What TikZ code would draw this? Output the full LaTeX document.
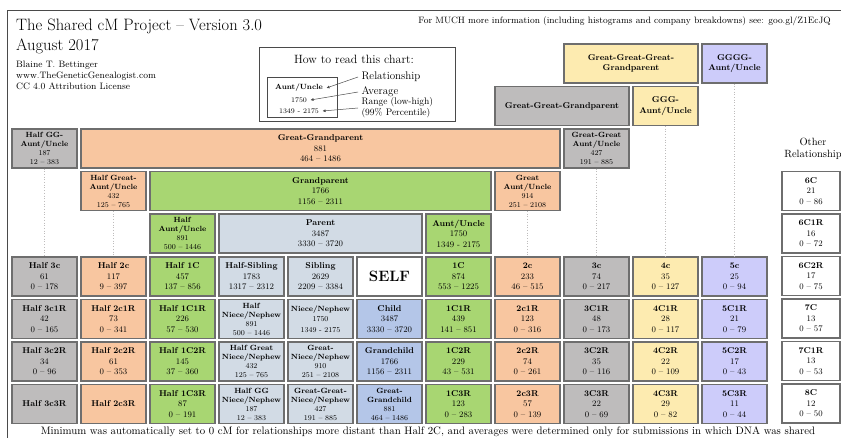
\documentclass[tikz,border=0pt]{standalone}
\usepackage{xcolor}
\usepackage{tikz}
\usetikzlibrary{positioning, arrows.meta}

\definecolor{cmgray}{HTML}{BEBCBC}
\definecolor{cmorange}{HTML}{F8C6A0}
\definecolor{cmgreen}{HTML}{A8D672}
\definecolor{cmslate}{HTML}{D2DBE5}
\definecolor{cmblue}{HTML}{B4C6E8}
\definecolor{cmyellow}{HTML}{FDEBB0}
\definecolor{cmlavender}{HTML}{CDCCFA}
\definecolor{cmedge}{HTML}{6E6E6E}
\definecolor{cmline}{HTML}{4A4A4A}

\newcommand{\cmcell}[4]{\textbf{#1}\\#2\\#3 \textendash{} #4}

\tikzset{
  cell/.style={draw=cmedge, line width=1.1pt, minimum width=65pt, minimum height=39pt,
    inner sep=0pt, align=center, font=\fontsize{8.5}{10.5}\selectfont},
  cellsmall/.style={font=\fontsize{7.5}{9}\selectfont},
  col0/.style={fill=cmgray}, col1/.style={fill=cmorange}, col2/.style={fill=cmgreen},
  col3/.style={fill=cmslate}, col4/.style={fill=cmslate}, col5/.style={fill=cmblue},
  col6/.style={fill=cmgreen}, col7/.style={fill=cmorange}, col8/.style={fill=cmgray},
  col9/.style={fill=cmyellow}, col10/.style={fill=cmlavender},
  other/.style={cell, fill=white, minimum width=58pt},
  guide/.style={draw=cmgray, dotted, line width=0.7pt},
  keyarrow/.style={-{Latex[length=3pt,width=3pt]}, draw=cmline, line width=0.5pt}
}

\begin{document}
\begin{tikzpicture}[x=1pt, y=-1pt]
        \useasboundingbox (0,0) rectangle (841,438);
        \fill[white] (0,0) rectangle (841,438);
        \draw[cmline, line width=0.9pt] (7,438) -- (7,10) -- (841,10);

        % Heading
        \node[anchor=base west, inner sep=0pt, font=\fontsize{16.5}{18}\selectfont] (title) at (16,31)
          {The Shared cM Project \textendash{} Version 3.0};
        \node[anchor=base west, inner sep=0pt, font=\fontsize{16.5}{18}\selectfont] (date) at (16,51)
          {August 2017};
        \node[anchor=north west, inner sep=0pt, align=left, font=\fontsize{9.3}{11}\selectfont] (author) at (16,61)
          {Blaine T. Bettinger\\www.TheGeneticGenealogist.com\\CC 4.0 Attribution License};
        \node[anchor=base east, inner sep=0pt, font=\fontsize{9.2}{11}\selectfont] (info) at (831,24)
          {For MUCH more information (including histograms and company breakdowns) see: goo.gl/Z1EcJQ};

        % How to read
        \node[draw=cmline, line width=0.6pt, minimum width=196pt, minimum height=74pt] (legend) at (357,84) {};
        \node[font=\fontsize{12}{14}\selectfont] (howto) at (354,59) {How to read this chart:};
        \node[draw=cmline, line width=0.8pt, minimum width=70pt, minimum height=40pt] (keybox) at (302,97) {};
        \node[font=\bfseries\fontsize{7.5}{9}\selectfont] (keyrel) at (299,88) {Aunt/Uncle};
        \node[font=\fontsize{7}{9}\selectfont] (keyavg) at (299,100) {1750};
        \node[font=\fontsize{7}{9}\selectfont] (keyrange) at (299,111) {1349 - 2175};
        \node[anchor=west, font=\fontsize{11}{13}\selectfont] (txtrel) at (358,77) {Relationship};
        \node[anchor=west, font=\fontsize{11}{13}\selectfont] (txtavg) at (358,92) {Average};
        \node[anchor=west, align=left, font=\fontsize{9.5}{11}\selectfont] (txtrange) at (358,108)
          {Range (low-high)\\(99\% Percentile)};
        \draw[keyarrow] (txtrel.west) -- (keyrel.east);
        \draw[keyarrow] (txtavg.west) -- (keyavg.east);
        \draw[keyarrow] (txtrange.west) -- (keyrange.east);

        % Ancestors and their siblings
        \node[cell, col9, minimum width=134pt] (ggggp) at (631,63.5) {\textbf{Great-Great-Great-}\\\textbf{Grandparent}};
        \node[cell, col10] (gggga) at (734.5,63.5) {\textbf{GGGG-}\\\textbf{Aunt/Uncle}};
        \node[cell, col8, minimum width=134pt] (gggp) at (562,106) {\textbf{Great-Great-Grandparent}};
        \node[cell, col9] (gggau) at (665.5,106) {\textbf{GGG-}\\\textbf{Aunt/Uncle}};
        \node[cell, cellsmall, col0] (hggau) at (44.5,148.5) {\textbf{Half GG-}\\\textbf{Aunt/Uncle}\\187\\12 \textendash{} 383};
        \node[cell, col1, minimum width=479pt] (ggp) at (320.5,148.5) {\cmcell{Great-Grandparent}{881}{464}{1486}};
        \node[cell, cellsmall, col8] (ggau) at (596.5,148.5) {\textbf{Great-Great}\\\textbf{Aunt/Uncle}\\427\\191 \textendash{} 885};
        \node[cell, cellsmall, col1] (hgau) at (113.5,191) {\textbf{Half Great-}\\\textbf{Aunt/Uncle}\\432\\125 \textendash{} 765};
        \node[cell, col2, minimum width=341pt] (gp) at (320.5,191) {\cmcell{Grandparent}{1766}{1156}{2311}};
        \node[cell, cellsmall, col7] (gau) at (527.5,191) {\textbf{Great}\\\textbf{Aunt/Uncle}\\914\\251 \textendash{} 2108};
        \node[cell, cellsmall, col2] (hau) at (182.5,233.5) {\textbf{Half}\\\textbf{Aunt/Uncle}\\891\\500 \textendash{} 1446};
        \node[cell, col3, minimum width=203pt] (parent) at (320.5,233.5) {\cmcell{Parent}{3487}{3330}{3720}};
        \node[cell, col6] (au) at (458.5,233.5) {\textbf{Aunt/Uncle}\\1750\\1349 - 2175};

        % Grid, one row at a time
        \foreach \c/\nm/\av/\lo/\hi in {0/Half 3c/61/0/178, 1/Half 2c/117/9/397, 2/Half 1C/457/137/856,
            3/Half-Sibling/1783/1317/2312, 4/Sibling/2629/2209/3384, 6/1C/874/553/1225, 7/2c/233/46/515,
            8/3c/74/0/217, 9/4c/35/0/127, 10/5c/25/0/94}
          \node[cell, col\c] (g-\c-5) at ({44.5+69*\c},276.5) {\cmcell{\nm}{\av}{\lo}{\hi}};
        \node[cell, fill=white, font=\bfseries\fontsize{15}{18}\selectfont] (g-5-5) at (389.5,276.5) {SELF};

        \foreach \c/\nm/\av/\lo/\hi in {0/Half 3c1R/42/0/165, 1/Half 2c1R/73/0/341, 2/Half 1C1R/226/57/530,
            5/Child/3487/3330/3720, 6/1C1R/439/141/851, 7/2c1R/123/0/316, 8/3C1R/48/0/173,
            9/4C1R/28/0/117, 10/5C1R/21/0/79}
          \node[cell, col\c] (g-\c-6) at ({44.5+69*\c},319) {\cmcell{\nm}{\av}{\lo}{\hi}};
        \node[cell, cellsmall, col3] (g-3-6) at (251.5,319) {\textbf{Half}\\\textbf{Niece/Nephew}\\891\\500 \textendash{} 1446};
        \node[cell, col4, font=\fontsize{7.5}{10.5}\selectfont] (g-4-6) at (320.5,319) {\textbf{Niece/Nephew}\\1750\\1349 - 2175};

        \foreach \c/\nm/\av/\lo/\hi in {0/Half 3c2R/34/0/96, 1/Half 2c2R/61/0/353, 2/Half 1C2R/145/37/360,
            5/Grandchild/1766/1156/2311, 6/1C2R/229/43/531, 7/2c2R/74/0/261, 8/3C2R/35/0/116,
            9/4C2R/22/0/109, 10/5C2R/17/0/43}
          \node[cell, col\c] (g-\c-7) at ({44.5+69*\c},361.5) {\cmcell{\nm}{\av}{\lo}{\hi}};
        \node[cell, cellsmall, col3] (g-3-7) at (251.5,361.5) {\textbf{Half Great}\\\textbf{Niece/Nephew}\\432\\125 \textendash{} 765};
        \node[cell, cellsmall, col4] (g-4-7) at (320.5,361.5) {\textbf{Great-}\\\textbf{Niece/Nephew}\\910\\251 \textendash{} 2108};

        \foreach \c/\nm/\av/\lo/\hi in {2/Half 1C3R/87/0/191, 6/1C3R/123/0/283, 7/2c3R/57/0/139,
            8/3C3R/22/0/69, 9/4C3R/29/0/82, 10/5C3R/11/0/44}
          \node[cell, col\c] (g-\c-8) at ({44.5+69*\c},404) {\cmcell{\nm}{\av}{\lo}{\hi}};
        \node[cell, col0] (g-0-8) at (44.5,404) {\textbf{Half 3c3R}};
        \node[cell, col1] (g-1-8) at (113.5,404) {\textbf{Half 2c3R}};
        \node[cell, cellsmall, col3] (g-3-8) at (251.5,404) {\textbf{Half GG}\\\textbf{Niece/Nephew}\\187\\12 \textendash{} 383};
        \node[cell, cellsmall, col4] (g-4-8) at (320.5,404) {\textbf{Great-Great-}\\\textbf{Niece/Nephew}\\427\\191 \textendash{} 885};
        \node[cell, cellsmall, col5] (g-5-8) at (389.5,404) {\textbf{Great-}\\\textbf{Grandchild}\\881\\464 \textendash{} 1486};

        % Other relationships
        \node[align=center, font=\fontsize{10.5}{12}\selectfont] (otherhead) at (813,149) {Other\\Relationship};
        \foreach \r/\nm/\av/\lo/\hi in {3/6C/21/0/86, 4/6C1R/16/0/72, 5/6C2R/17/0/75,
            6/7C/13/0/57, 7/7C1R/13/0/53, 8/8C/12/0/50}
          \node[other] (o-\r) at (811,{63.5+42.5*\r}) {\cmcell{\nm}{\av}{\lo}{\hi}};

        % Dotted guides down to the cousins
        \draw[guide] (hggau.south) -- (g-0-5.north);
        \draw[guide] (hgau.south) -- (g-1-5.north);
        \draw[guide] (gau.south) -- (g-7-5.north);
        \draw[guide] (ggau.south) -- (g-8-5.north);
        \draw[guide] (gggau.south) -- (g-9-5.north);
        \draw[guide] (gggga.south) -- (g-10-5.north);

        \node[anchor=base, inner sep=0pt, font=\fontsize{10.8}{12}\selectfont] (note) at (428,434)
          {Minimum was automatically set to 0 cM for relationships more distant than Half 2C, and averages were determined only for submissions in which DNA was shared};
      \end{tikzpicture}
\end{document}
